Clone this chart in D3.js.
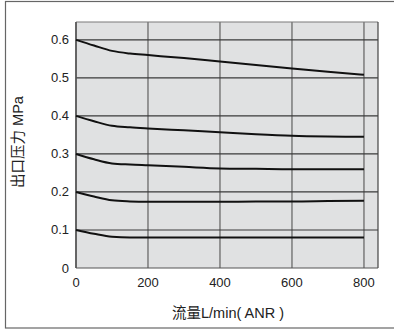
<!DOCTYPE html>
<html><head><meta charset="utf-8">
<script src="https://cdn.jsdelivr.net/npm/d3@7"></script>
<style>body{margin:0;background:#fff;}svg{display:block;}</style>
</head><body>
<script>
const flow = [0, 50, 100, 150, 200, 300, 400, 500, 600, 700, 800];
const p06 = [0.600, 0.585, 0.571, 0.564, 0.560, 0.552, 0.543, 0.534, 0.525, 0.516, 0.508];
const p04 = [0.400, 0.386, 0.374, 0.370, 0.367, 0.362, 0.357, 0.352, 0.348, 0.346, 0.345];
const p03 = [0.300, 0.286, 0.275, 0.272, 0.270, 0.266, 0.262, 0.261, 0.260, 0.260, 0.260];
const p02 = [0.200, 0.188, 0.178, 0.175, 0.174, 0.174, 0.174, 0.175, 0.175, 0.176, 0.177];
const p01 = [0.100, 0.090, 0.082, 0.080, 0.080, 0.080, 0.080, 0.080, 0.080, 0.080, 0.080];
const seriesList = [p06, p04, p03, p02, p01];
const xTicks = [0, 200, 400, 600, 800];
const yTicks = [0, 0.1, 0.2, 0.3, 0.4, 0.5, 0.6];
const xTitle = "流量L/min( ANR )";
const yTitle = "出口压力 MPa";

const W = 394, H = 329;
const L = 76, R = 378, T = 22, B = 268;
const svg = d3.select("body").append("svg").attr("width", W).attr("height", H);

svg.append("rect").attr("x", 5.5).attr("y", 1.5).attr("width", 420).attr("height", 326.5)
  .attr("fill", "none").attr("stroke", "#666").attr("stroke-width", 1.2);

const x = d3.scaleLinear().domain([0, 839]).range([L, R]);
const y = d3.scaleLinear().domain([0, 0.647]).range([B, T]);

svg.append("rect").attr("x", L).attr("y", T).attr("width", R - L).attr("height", B - T).attr("fill", "#e0e1e2");

const g = svg.append("g");
g.selectAll(".vg").data(xTicks).join("line")
  .attr("x1", d => x(d)).attr("x2", d => x(d)).attr("y1", T).attr("y2", B)
  .attr("stroke", "#7a7a7a").attr("stroke-width", 1.5);
g.selectAll(".hg").data(yTicks.filter(d => d > 0)).join("line")
  .attr("x1", L).attr("x2", R).attr("y1", d => y(d)).attr("y2", d => y(d))
  .attr("stroke", "#3a3a3a").attr("stroke-width", 1.2);

svg.append("line").attr("x1", L).attr("x2", R).attr("y1", T).attr("y2", T).attr("stroke", "#7a7a7a").attr("stroke-width", 1.2);
svg.append("line").attr("x1", R).attr("x2", R).attr("y1", T).attr("y2", B).attr("stroke", "#444").attr("stroke-width", 1.2);
svg.append("line").attr("x1", L).attr("x2", R).attr("y1", B).attr("y2", B).attr("stroke", "#555").attr("stroke-width", 1.2);
svg.append("line").attr("x1", L).attr("x2", L).attr("y1", T).attr("y2", B).attr("stroke", "#555").attr("stroke-width", 1.5);

const line = d3.line().x((d, i) => x(flow[i])).y(d => y(d)).curve(d3.curveMonotoneX);
svg.selectAll(".curve").data(seriesList).join("path")
  .attr("d", d => line(d)).attr("fill", "none").attr("stroke", "#111").attr("stroke-width", 2);

const font = "'Liberation Sans', Arial, sans-serif";
const tfont = "'Liberation Sans', 'Noto Sans CJK SC', sans-serif";
svg.selectAll(".xt").data(xTicks).join("text")
  .attr("x", d => x(d)).attr("y", 287).attr("text-anchor", "middle")
  .attr("font-family", font).attr("font-size", 13).attr("fill", "#222").text(d => d);
svg.selectAll(".yt").data(yTicks).join("text")
  .attr("x", 69).attr("y", d => y(d) + 4.5).attr("text-anchor", "end")
  .attr("font-family", font).attr("font-size", 13).attr("fill", "#222")
  .text(d => d === 0 ? "0" : d3.format(".1f")(d));

svg.append("text").attr("x", 228).attr("y", 318).attr("text-anchor", "middle")
  .attr("font-family", tfont).attr("font-size", 14.5).attr("fill", "#222").text(xTitle);
svg.append("text").attr("transform", "translate(23,142) rotate(-90)").attr("text-anchor", "middle")
  .attr("font-family", tfont).attr("font-size", 14.5).attr("fill", "#222").text(yTitle);
</script>
</body></html>
